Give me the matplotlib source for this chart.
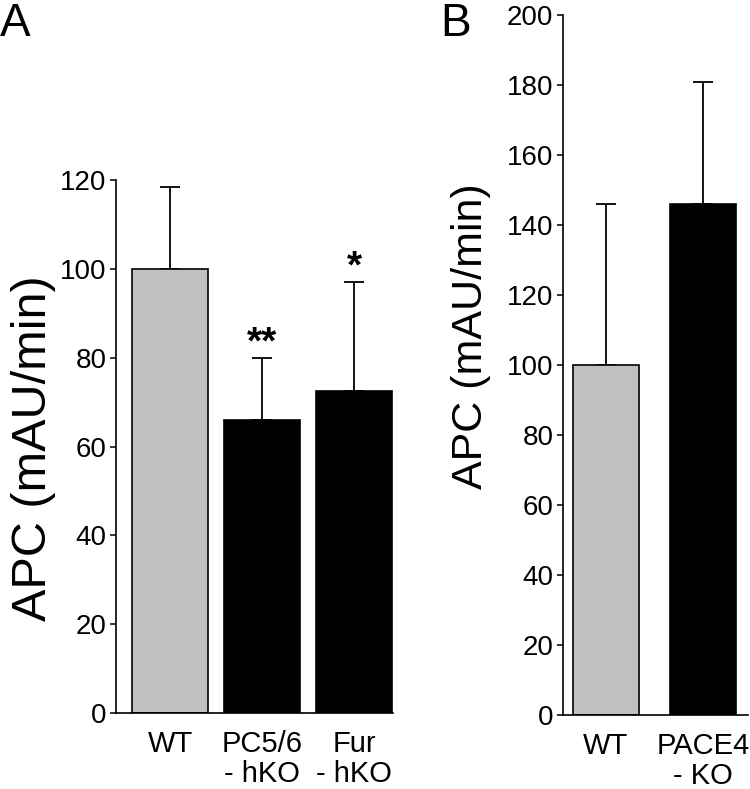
import matplotlib.pyplot as plt

# Panel A data
a_labels = ["WT", "PC5/6\n- hKO", "Fur\n- hKO"]
a_means = [100, 66, 72.5]
a_err = [18.5, 14, 24.5]
a_colors = ["#c0c0c0", "black", "black"]
a_stars = ["", "**", "*"]

# Panel B data
b_labels = ["WT", "PACE4\n- KO"]
b_means = [100, 146]
b_err = [46, 35]
b_colors = ["#c0c0c0", "black"]


def style_axis(ax, ymax, step):
    ax.spines["top"].set_visible(False)
    ax.spines["right"].set_visible(False)
    ax.spines["left"].set_linewidth(1.2)
    ax.spines["bottom"].set_linewidth(1.2)
    ax.set_ylim(0, ymax)
    ax.set_yticks(range(0, ymax + 1, step))
    ax.tick_params(axis="y", direction="out", length=4, width=1.1,
                   labelsize=20, pad=3)
    ax.tick_params(axis="x", length=0, labelsize=21, pad=12)
    for lab in ax.get_xticklabels():
        lab.set_linespacing(1.1)


def main():
    plt.rcParams["font.family"] = ["Liberation Sans", "DejaVu Sans"]
    fig = plt.figure(figsize=(7.5, 7.89), dpi=100)

    ax1 = fig.add_axes([0.1547, 0.0963, 0.369, 0.6755])
    x1 = range(len(a_means))
    ax1.bar(x1, a_means, width=0.83, color=a_colors, edgecolor="black",
            linewidth=1.2, zorder=2)
    ax1.errorbar(x1, a_means, yerr=[[0] * len(a_err), a_err], fmt="none",
                 ecolor="black", elinewidth=1.3, capsize=7, capthick=1.3,
                 zorder=1)
    for xi, m, e, s in zip(x1, a_means, a_err, a_stars):
        if s:
            ax1.text(xi, m + e - 0.8, s, ha="center", va="bottom",
                     fontsize=28, fontweight="bold")
    ax1.set_xlim(-0.59, 2.42)
    ax1.set_xticks(list(x1))
    ax1.set_xticklabels(a_labels)
    style_axis(ax1, 120, 20)

    ax2 = fig.add_axes([0.7507, 0.0938, 0.2467, 0.887])
    x2 = range(len(b_means))
    ax2.bar(x2, b_means, width=0.68, color=b_colors, edgecolor="black",
            linewidth=1.2, zorder=2)
    ax2.errorbar(x2, b_means, yerr=[[0] * len(b_err), b_err], fmt="none",
                 ecolor="black", elinewidth=1.3, capsize=7, capthick=1.3,
                 zorder=1)
    ax2.set_xlim(-0.44, 1.46)
    ax2.set_xticks(list(x2))
    ax2.set_xticklabels(b_labels)
    style_axis(ax2, 200, 20)

    fig.text(34 / 750, 1 - 448 / 789, "APC (mAU/min)", rotation=90,
             ha="center", va="center", fontsize=35)
    fig.text(471 / 750, 1 - 336 / 789, "APC (mAU/min)", rotation=90,
             ha="center", va="center", fontsize=31)
    fig.text(0.0, 1 - 2 / 789, "A", ha="left", va="top", fontsize=33)
    fig.text(440 / 750, 1 - 2 / 789, "B", ha="left", va="top", fontsize=33)

    fig.savefig("out.png", dpi=100)


if __name__ == "__main__":
    main()
